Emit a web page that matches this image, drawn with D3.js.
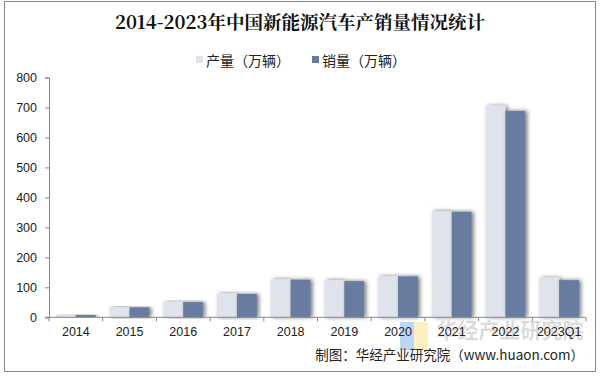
<!DOCTYPE html>
<html>
  <head>
    <meta charset="utf-8">
    <title>新能源汽车产销量</title>
    <script src="https://cdn.jsdelivr.net/npm/d3@7"></script>
    <style>
      body { margin: 0; background: #fff; }
      svg { display: block; font-family: Arial, "Liberation Sans", "Noto Sans CJK SC", sans-serif; }
    </style>
  </head>
  <body>
    <svg id="chart" width="600" height="376"></svg>

    <script>
      // data
      const years = ["2014", "2015", "2016", "2017", "2018", "2019", "2020", "2021", "2022", "2023Q1"];
      const production = [7.9, 34.1, 51.7, 79.4, 127, 124.2, 136.6, 354.5, 705.8, 132];
      const sales = [7.5, 33.1, 50.7, 77.7, 125.6, 120.6, 136.7, 352.1, 688.7, 124];
      const yTicks = [0, 100, 200, 300, 400, 500, 600, 700, 800];
      const seriesNames = ["产量（万辆）", "销量（万辆）"];
      const colours = ["#dfe3ec", "#677ba1"];

      svg = d3.select("#chart");

      // frame
      svg.append("rect")
        .attr("x", 4.5).attr("y", 1.5)
        .attr("width", 591).attr("height", 370)
        .attr("fill", "#fff")
        .attr("stroke", "#888")
        .attr("stroke-width", 1);

      // shadow
      filter = svg.append("defs").append("filter")
        .attr("id", "shadow")
        .attr("x", "-40%").attr("y", "-10%")
        .attr("width", "180%").attr("height", "120%");
      filter.append("feGaussianBlur")
        .attr("in", "SourceAlpha")
        .attr("stdDeviation", 2.2);
      filter.append("feOffset").attr("dx", 1.5).attr("dy", 0).attr("result", "blur");
      filter.append("feComponentTransfer")
        .append("feFuncA").attr("type", "linear").attr("slope", 0.55);
      merge = filter.append("feMerge");
      merge.append("feMergeNode");
      merge.append("feMergeNode").attr("in", "SourceGraphic");

      // title
      svg.append("text")
        .attr("x", 300).attr("y", 29)
        .attr("text-anchor", "middle")
        .style("font-family", "'Noto Serif CJK SC', 'DejaVu Serif', 'Noto Sans CJK SC', serif")
        .style("font-size", "18.5px")
        .style("font-weight", "bold")
        .attr("fill", "#111")
        .text("2014-2023年中国新能源汽车产销量情况统计");

      // legend
      legendX = [196, 312];
      seriesNames.forEach(function(name, i) {
        svg.append("rect")
          .attr("x", legendX[i]).attr("y", 56)
          .attr("width", 7).attr("height", 7)
          .attr("fill", colours[i]);
        svg.append("text")
          .attr("x", legendX[i] + 10).attr("y", 65.5)
          .style("font-family", "'Noto Sans CJK SC', sans-serif")
          .style("font-size", "14px")
          .attr("fill", "#222")
          .text(name);
      });

      // scales
      x = d3.scaleBand()
        .domain(years)
        .range([49, 586]);

      y = d3.scaleLinear()
        .domain([0, 800])
        .range([317.3, 77.5]);

      inner = d3.scaleBand()
        .domain([0, 1])
        .range([7, x.bandwidth() - 7]);

      // bars
      groups = svg.selectAll(".group")
        .data(years)
        .enter().append("g")
          .attr("class", "group")
          .attr("transform", function(d) { return "translate(" + x(d) + ",0)"; });

      [production, sales].forEach(function(series, s) {
        groups.append("rect")
          .attr("x", inner(s))
          .attr("width", inner.bandwidth())
          .attr("y", function(d, i) { return y(series[i]); })
          .attr("height", function(d, i) { return y(0) - y(series[i]); })
          .attr("fill", colours[s])
          .attr("filter", "url(#shadow)");
      });

      // y axis
      yAxis = d3.axisLeft(y)
        .tickValues(yTicks)
        .tickSize(4)
        .tickPadding(8);
      gy = svg.append("g")
        .attr("transform", "translate(49,0)")
        .call(yAxis);
      gy.select(".domain").attr("stroke", "#888");
      gy.selectAll("line").attr("stroke", "#888");
      gy.selectAll("text")
        .style("font-size", "12.5px")
        .attr("fill", "#222");

      // watermark (under the axis labels, as in the source image)
      svg.append("rect")
        .attr("x", 400).attr("y", 322).attr("width", 14).attr("height", 28)
        .attr("fill", "#aaccf5").attr("opacity", 0.8);
      svg.append("rect")
        .attr("x", 414).attr("y", 322).attr("width", 14).attr("height", 28)
        .attr("fill", "#fbecb0").attr("opacity", 0.8);
      svg.append("text")
        .attr("x", 510).attr("y", 338)
        .attr("text-anchor", "middle")
        .style("font-family", "'Noto Sans CJK SC', sans-serif")
        .style("font-size", "21px")
        .style("font-weight", "bold")
        .attr("fill", "#999")
        .attr("opacity", 0.35)
        .text("华经产业研究院");

      // x axis
      gx = svg.append("g")
        .attr("transform", "translate(0," + y(0) + ")");
      gx.append("line")
        .attr("x1", 45).attr("x2", 586)
        .attr("stroke", "#888");
      gx.selectAll(".tick")
        .data(years.concat(["end"]))
        .enter().append("line")
          .attr("x1", function(d, i) { return i < years.length ? x(d) : x.range()[1]; })
          .attr("x2", function(d, i) { return i < years.length ? x(d) : x.range()[1]; })
          .attr("y1", 0).attr("y2", 4)
          .attr("stroke", "#888");
      gx.selectAll(".label")
        .data(years)
        .enter().append("text")
          .attr("x", function(d) { return x(d) + x.bandwidth() / 2; })
          .attr("y", 19)
          .attr("text-anchor", "middle")
          .style("font-size", "12.5px")
          .attr("fill", "#222")
          .text(function(d) { return d; });

      // source
      svg.append("text")
        .attr("x", 584).attr("y", 360)
        .attr("text-anchor", "end")
        .style("font-family", "'Noto Sans CJK SC', sans-serif")
        .style("font-size", "13.5px")
        .attr("fill", "#222")
        .text("制图：华经产业研究院（www.huaon.com）");
    </script>
  </body>
</html>
